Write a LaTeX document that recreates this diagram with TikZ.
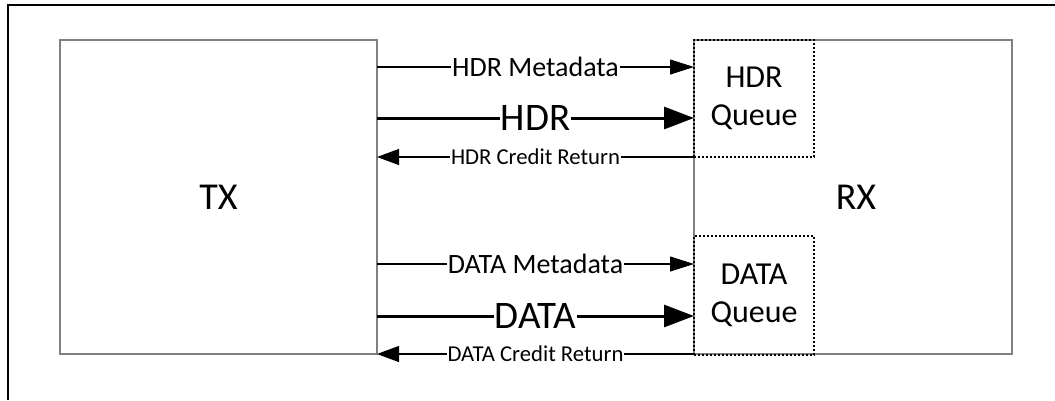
\documentclass[tikz,border=0pt]{standalone}
\usepackage{fontspec}
\setmainfont{Carlito}
\usetikzlibrary{arrows.meta}
\begin{document}
\begin{tikzpicture}[x=1pt,y=-1pt,
  blk/.style={draw=black!50,line width=2pt,inner sep=0pt,outer sep=0pt},
  queue/.style={draw=black,line width=1.6pt,dash pattern=on 2pt off 2pt,inner sep=0pt,outer sep=0pt,align=center,font=\fontsize{32}{38}\selectfont},
  thinarr/.style={line width=1.1pt,-{Triangle[length=24pt,width=15pt]}},
  thickarr/.style={line width=3pt,-{Triangle[length=30pt,width=22pt]}},
  backarr/.style={line width=1.1pt,-{Triangle[length=22pt,width=16pt]}},
  lblmd/.style={fill=white,inner sep=1pt,font=\fontsize{28}{30}\selectfont},
  lblbig/.style={fill=white,inner sep=1pt,font=\fontsize{39}{42}\selectfont},
  lblcr/.style={fill=white,inner sep=1pt,font=\fontsize{22.7}{25}\selectfont}]
\useasboundingbox (0,0) rectangle (1055,400);
\fill[white] (0,0) rectangle (1055,400);
% outer frame (top and left visible)
\coordinate (f0) at (8,400);
\coordinate (f1) at (8,5);
\coordinate (f2) at (1055,5);
\draw[line width=2pt] (f0) -- (f1) -- (f2);
% blocks
\node[blk,minimum width=317pt,minimum height=314pt,font=\fontsize{38}{40}\selectfont] (tx) at (218.5,197) {TX};
\node[blk,minimum width=318pt,minimum height=314pt] (rx) at (853,197) {};
\node[font=\fontsize{38}{40}\selectfont] (rxl) at (856,197) {RX};
\node[queue,minimum width=120pt,minimum height=117pt] (hq) at (754,98.5) {HDR\\Queue};
\node[queue,minimum width=120pt,minimum height=119pt] (dq) at (754,295.5) {DATA\\Queue};
% rows
\coordinate (y1) at (0,67);
\coordinate (y2) at (0,118);
\coordinate (y3) at (0,157);
\coordinate (y4) at (0,264);
\coordinate (y5) at (0,316);
\coordinate (y6) at (0,354);
\draw[thinarr] (tx.east |- y1) -- node[lblmd] {HDR Metadata} (rx.west |- y1);
\draw[thickarr] (tx.east |- y2) -- node[lblbig] {HDR} (rx.west |- y2);
\draw[backarr] (rx.west |- y3) -- node[lblcr] {HDR Credit Return} (tx.east |- y3);
\draw[thinarr] (tx.east |- y4) -- node[lblmd] {DATA Metadata} (rx.west |- y4);
\draw[thickarr] (tx.east |- y5) -- node[lblbig] {DATA} (rx.west |- y5);
\draw[backarr] (rx.west |- y6) -- node[lblcr] {DATA Credit Return} (tx.east |- y6);
\end{tikzpicture}
\end{document}
